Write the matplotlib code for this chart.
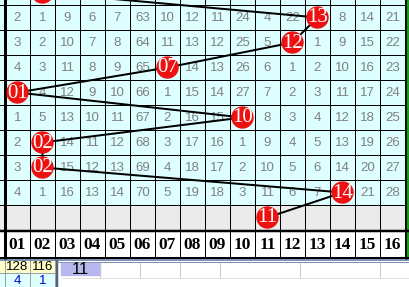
import matplotlib.pyplot as plt
from matplotlib.patches import Rectangle, Circle

# Omission values per row (0 = drawn number, shown as a red ball)
numbers = ["01", "02", "03", "04", "05", "06", "07", "08",
           "09", "10", "11", "12", "13", "14", "15", "16"]
rows = [
    [2, 1, 9, 6, 7, 63, 10, 12, 11, 24, 4, 22, 0, 8, 14, 21],
    [3, 2, 10, 7, 8, 64, 11, 13, 12, 25, 5, 0, 1, 9, 15, 22],
    [4, 3, 11, 8, 9, 65, 0, 14, 13, 26, 6, 1, 2, 10, 16, 23],
    [0, 4, 12, 9, 10, 66, 1, 15, 14, 27, 7, 2, 3, 11, 17, 24],
    [1, 5, 13, 10, 11, 67, 2, 16, 15, 0, 8, 3, 4, 12, 18, 25],
    [2, 0, 14, 11, 12, 68, 3, 17, 16, 1, 9, 4, 5, 13, 19, 26],
    [3, 0, 15, 12, 13, 69, 4, 18, 17, 2, 10, 5, 6, 14, 20, 27],
    [4, 1, 16, 13, 14, 70, 5, 19, 18, 3, 11, 6, 7, 0, 21, 28],
]
# drawn number per row, first one is the half-hidden row on top, last the gray row
draws = [2, 13, 12, 7, 1, 10, 2, 2, 14, 11]
appear_count = ["128", "116"]
last_miss = ["4", "1"]
cell_text = "11"

# layout in pixels
X0, CW = 5, 25
Y0, RH = 5, 25

fig = plt.figure(figsize=(4.1, 2.87), dpi=100)
ax = fig.add_axes([0, 0, 1, 1])
ax.set_xlim(0, 410)
ax.set_ylim(287, 0)
ax.axis("off")

px = 0.72  # one pixel in points

# backgrounds
ax.add_patch(Rectangle((0, 0), 410, 205, color="#DDFFFF", zorder=0))
ax.add_patch(Rectangle((0, 205), 410, 25, color="#EBEBEB", zorder=0))
ax.add_patch(Rectangle((0, 230), 410, 30, color="white", zorder=0))
ax.add_patch(Rectangle((0, 260), 55, 13, color="#FFFFC8", zorder=0))
ax.add_patch(Rectangle((0, 273), 55, 14, color="#DDFFFF", zorder=0))

# grid lines
for k in range(17):
    x = X0 + k * CW
    ax.plot([x, x], [0, 258], color="black", lw=px, zorder=1)
for r in range(10):
    y = Y0 + r * RH
    ax.plot([0, 405], [y, y], color="black", lw=px, zorder=1)
ax.plot([X0, X0], [0, 258], color="black", lw=3 * px, zorder=2)
ax.plot([406, 406], [0, 258], color="black", lw=3 * px, zorder=2)
ax.add_patch(Rectangle((407.5, 0), 3, 258, color="#10A010", zorder=2))
ax.plot([0, 410], [231, 231], color="black", lw=2.5 * px, zorder=2)
ax.plot([0, 410], [258, 258], color="black", lw=2 * px, zorder=2)

# omission numbers
for r, vals in enumerate(rows):
    yc = Y0 + r * RH + RH / 2
    for k, v in enumerate(vals):
        if v:
            ax.text(X0 + k * CW + CW / 2, yc + 0.5, str(v), ha="center", va="center",
                    color="#808080", fontsize=9.5, family="Liberation Sans", zorder=3)

# header
for k, n in enumerate(numbers):
    ax.text(X0 + k * CW + CW / 2, 245, n, ha="center", va="center", color="black",
            fontsize=12.5, fontweight="bold", family="Liberation Serif", zorder=3)

# trend line and balls
bx = [X0 + (d - 1) * CW + CW / 2 for d in draws]
by = [Y0 - RH / 2 + i * RH for i in range(len(draws))]
ax.plot(bx, by, color="black", lw=2 * px, zorder=4)
for i, (x, y, d) in enumerate(zip(bx, by, draws)):
    ax.add_patch(Circle((x, y), 10.5, color="#EE1111", zorder=5))
    if i > 0:  # the top ball is cut off by the window edge
        ax.text(x, y + 0.5, f"{d:02d}", ha="center", va="center", color="white",
                fontsize=15, family="Liberation Serif", zorder=6)

# bottom statistics
for k in range(2):
    xc = X0 + k * CW + CW / 2
    ax.text(xc, 266.5, appear_count[k], ha="center", va="center", color="black",
            fontsize=9.5, family="Liberation Sans", zorder=3)
    ax.text(xc, 281, last_miss[k], ha="center", va="center", color="#0000E0",
            fontsize=9.5, family="Liberation Sans", zorder=3)
for x in [5, 30, 55]:
    ax.plot([x, x], [259, 287], color="#A0A0A0", lw=px, zorder=1)
ax.plot([0, 55], [273, 273], color="#A0A0A0", lw=px, zorder=1)

# editing overlay
ax.add_patch(Rectangle((56, 260), 354, 27, color="white", zorder=7))
ax.plot([0, 410], [260, 260], color="#5570A0", lw=1.5 * px, zorder=8)
ax.plot([57.5, 57.5], [261, 287], color="#506080", lw=2.5 * px, zorder=8)
ax.plot([57.5, 410], [262, 262], color="#8090B0", lw=px, zorder=8)
ax.add_patch(Rectangle((61, 263), 39, 12, color="#B8B8F0", zorder=8))
for x in [100, 140, 180, 220, 300, 380]:
    ax.plot([x, x], [263, 278], color="#C8C8C8", lw=px, zorder=8)
ax.plot([61, 410], [278, 278], color="#E0E0E0", lw=px, zorder=8)
ax.text(80, 269.5, cell_text, ha="center", va="center", color="black",
        fontsize=12, family="Liberation Sans", zorder=9)

fig.savefig("out.png", dpi=100)
